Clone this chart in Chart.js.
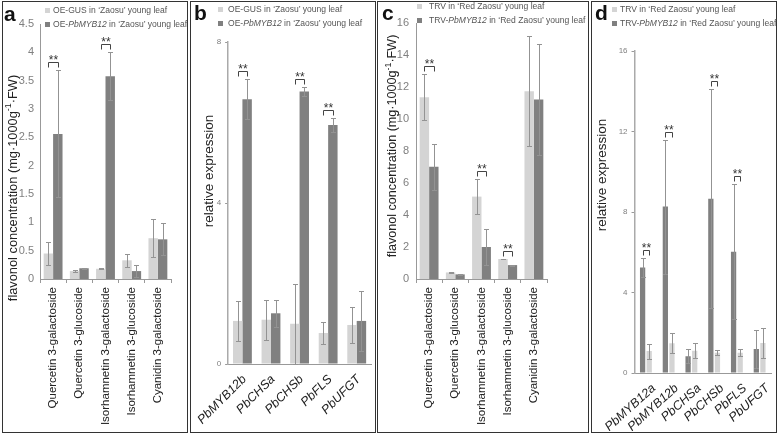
<!DOCTYPE html>
<html>
<head>
<meta charset="utf-8">
<script src="https://cdn.jsdelivr.net/npm/chart.js@4.4.1/dist/chart.umd.min.js"></script>
<style>
  body { margin: 0; background: #fff; width: 778px; height: 435px; position: relative; overflow: hidden;
         font-family: "Liberation Sans", Arial, sans-serif; }
  .box { position: absolute; border: 1px solid #333; box-sizing: border-box; }
  canvas { position: absolute; }
  .letter { position: absolute; font-weight: bold; font-size: 21px; line-height: 21px; color: #111; }
  .ytitle { position: absolute; white-space: nowrap; color: #222; transform: translate(-50%, -50%) rotate(-90deg); line-height: 1; }
  .ytitle sup { font-size: 0.7em; }
  .lg { position: absolute; font-size: 9px; line-height: 10px; color: #555; white-space: nowrap;
        transform: scaleX(0.95); transform-origin: 0 50%; }
  .mk { position: absolute; width: 5px; height: 5px; }
</style>
</head>
<body>

<div class="box" style="left:2px;top:1px;width:186px;height:432px"></div>
<div class="box" style="left:190px;top:1px;width:186px;height:432px"></div>
<div class="box" style="left:377px;top:1px;width:212px;height:432px"></div>
<div class="box" style="left:591px;top:1px;width:186px;height:432px"></div>

<canvas id="chartA" width="183" height="429" style="left:3px;top:2px"></canvas>
<canvas id="chartB" width="183" height="429" style="left:191px;top:2px"></canvas>
<canvas id="chartC" width="210" height="429" style="left:378px;top:2px"></canvas>
<canvas id="chartD" width="183" height="429" style="left:592px;top:2px"></canvas>

<div class="letter" style="left:4px;top:3px">a</div>
<div class="letter" style="left:194px;top:2px">b</div>
<div class="letter" style="left:382px;top:2px">c</div>
<div class="letter" style="left:595px;top:2px">d</div>

<div class="ytitle" style="left:12px;top:188px;font-size:12.8px">flavonol concentration (mg·1000g<sup>-1</sup>·FW)</div>
<div class="ytitle" style="left:209px;top:171px;font-size:13.5px">relative expression</div>
<div class="ytitle" style="left:391px;top:146px;font-size:12.6px">flavonol concentration (mg·1000g<sup>-1</sup>·FW)</div>
<div class="ytitle" style="left:602px;top:175px;font-size:13.5px">relative expression</div>

<div class="mk" style="left:45px;top:8px;background:#d4d4d4"></div>
<div class="lg" style="left:53px;top:5px">OE-GUS in ‘Zaosu’ young leaf</div>
<div class="mk" style="left:45px;top:22px;background:#808080"></div>
<div class="lg" style="left:53px;top:19px">OE-<i>PbMYB12</i> in ‘Zaosu’ young leaf</div>

<div class="mk" style="left:218px;top:7px;background:#d4d4d4"></div>
<div class="lg" style="left:228px;top:4px">OE-GUS in ‘Zaosu’ young leaf</div>
<div class="mk" style="left:218px;top:21px;background:#808080"></div>
<div class="lg" style="left:228px;top:18px">OE-<i>PbMYB12</i> in ‘Zaosu’ young leaf</div>

<div class="mk" style="left:417px;top:4px;background:#d4d4d4"></div>
<div class="lg" style="left:429px;top:1px">TRV in ‘Red Zaosu’ young leaf</div>
<div class="mk" style="left:417px;top:18px;background:#808080"></div>
<div class="lg" style="left:429px;top:15px">TRV-<i>PbMYB12</i> in ‘Red Zaosu’ young leaf</div>

<div class="mk" style="left:612px;top:7px;background:#d4d4d4"></div>
<div class="lg" style="left:620px;top:4px">TRV in ‘Red Zaosu’ young leaf</div>
<div class="mk" style="left:612px;top:21px;background:#808080"></div>
<div class="lg" style="left:620px;top:18px">TRV-<i>PbMYB12</i> in ‘Red Zaosu’ young leaf</div>

<script>
// categories
const flavonolLabels = ['Quercetin 3-galactoside', 'Quercetin 3-glucoside', 'Isorhamnetin 3-galactoside', 'Isorhamnetin 3-glucoside', 'Cyanidin 3-galactoside'];
const geneLabelsB = ['PbMYB12b', 'PbCHSa', 'PbCHSb', 'PbFLS', 'PbUFGT'];
const geneLabelsD = ['PbMYB12a', 'PbMYB12b', 'PbCHSa', 'PbCHSb', 'PbFLS', 'PbUFGT'];

// a: flavonols in 'Zaosu' (OE)
const aGus = [0.45, 0.14, 0.18, 0.33, 0.72];
const aGusErr = [0.21, 0.015, 0.01, 0.12, 0.34];
const aMyb = [2.56, 0.19, 3.58, 0.14, 0.70];
const aMybErr = [1.12, 0.01, 0.42, 0.11, 0.28];
const aSig = [0, 2];

// b: expression in 'Zaosu' (OE)
const bGus = [1.07, 1.10, 1.00, 0.77, 0.97];
const bGusErr = [0.50, 0.50, 1.00, 0.27, 0.45];
const bMyb = [6.58, 1.26, 6.77, 5.94, 1.07];
const bMybErr = [0.50, 0.34, 0.11, 0.17, 0.74];
const bSig = [0, 2, 3];

// c: flavonols in 'Red Zaosu' (TRV)
const cTrv = [11.36, 0.41, 5.15, 1.25, 11.74];
const cTrvErr = [1.44, 0.03, 1.10, 0.03, 3.43];
const cMyb = [7.02, 0.29, 2.00, 0.87, 11.22];
const cMybErr = [1.43, 0.02, 1.12, 0.03, 3.45];
const cSig = [0, 2, 3];

// d: expression in 'Red Zaosu' (TRV), silenced bar drawn first
const dMyb = [5.24, 8.27, 0.83, 8.66, 6.03, 1.19];
const dMybErr = [0.46, 3.33, 0.35, 5.44, 3.36, 0.95];
const dTrv = [1.09, 1.48, 1.11, 1.01, 1.01, 1.49];
const dTrvErr = [0.37, 0.49, 0.37, 0.12, 0.18, 0.75];
const dSig = [0, 1, 3, 4];

const LIGHT = '#d4d4d4';
const DARK = '#808080';

// error bars + ** brackets
const errorBars = {
    id: 'errorBars',
    afterDatasetsDraw(chart, args, opts) {
        const ctx = chart.ctx;
        const y = chart.scales.y;
        ctx.save();
        ctx.strokeStyle = '#939393';
        ctx.lineWidth = 1;
        chart.data.datasets.forEach((ds, di) => {
            chart.getDatasetMeta(di).data.forEach((bar, i) => {
                const v = ds.data[i], e = ds.err[i];
                const top = Math.round(y.getPixelForValue(v + e)) + 0.5;
                const bot = Math.round(y.getPixelForValue(Math.max(0, v - e))) + 0.5;
                const x = Math.round(bar.x) + 0.5;
                ctx.beginPath();
                ctx.moveTo(x, top); ctx.lineTo(x, bot);
                ctx.moveTo(x - 2.5, top); ctx.lineTo(x + 2.5, top);
                ctx.moveTo(x - 2.5, bot); ctx.lineTo(x + 2.5, bot);
                ctx.stroke();
            });
        });
        ctx.strokeStyle = '#444';
        ctx.fillStyle = '#333';
        ctx.font = '12px "Liberation Sans", Arial, sans-serif';
        ctx.textAlign = 'center';
        (opts.sig || []).forEach(i => {
            const b0 = chart.getDatasetMeta(0).data[i];
            const b1 = chart.getDatasetMeta(1).data[i];
            const tops = chart.data.datasets.map(ds => y.getPixelForValue(ds.data[i] + ds.err[i]));
            const yb = Math.round(Math.min(...tops) - 8) + 0.5;
            const x0 = Math.round(b0.x) + 0.5, x1 = Math.round(b1.x) + 0.5;
            ctx.beginPath();
            ctx.moveTo(x0, yb + 5); ctx.lineTo(x0, yb); ctx.lineTo(x1, yb); ctx.lineTo(x1, yb + 5);
            ctx.stroke();
            ctx.fillText('**', (x0 + x1) / 2, yb + 1);
        });
        ctx.restore();
    }
};

function makePanel(id, labels, sets, sig, o) {
    const ctx = document.getElementById(id).getContext('2d');
    return new Chart(ctx, {
        type: 'bar',
        data: {
            labels: labels,
            datasets: sets.map(s => ({
                data: s.data,
                err: s.err,
                backgroundColor: s.color,
                borderWidth: 0,
                categoryPercentage: o.catPct,
                barPercentage: o.barPct
            }))
        },
        options: {
            responsive: false,
            animation: false,
            events: [],
            layout: { padding: { top: o.top, right: o.right, left: 0, bottom: 0 } },
            plugins: {
                legend: { display: false },
                tooltip: { enabled: false },
                errorBars: { sig: sig }
            },
            scales: {
                x: {
                    afterFit: s => { s.height = o.xHeight; },
                    border: { display: true, color: '#999', width: 1 },
                    grid: { display: o.xTicks, drawOnChartArea: false, tickLength: 4, color: '#999' },
                    ticks: {
                        autoSkip: false,
                        minRotation: o.rot,
                        maxRotation: o.rot,
                        padding: o.xPad,
                        labelOffset: o.xShift,
                        color: '#222',
                        font: { size: o.xFont, style: o.xStyle, family: '"Liberation Sans", Arial, sans-serif' }
                    }
                },
                y: {
                    min: 0,
                    max: o.yMax,
                    afterFit: s => { s.width = o.yWidth; },
                    border: { display: true, color: o.axisColor, width: o.axisWidth },
                    grid: { display: o.yTicks, drawOnChartArea: false, drawTicks: o.yTicks, tickLength: 3, color: '#999' },
                    ticks: {
                        stepSize: o.yStep,
                        padding: o.yPad,
                        color: '#808080',
                        callback: value => String(value),
                        font: { size: o.yFont, family: '"Liberation Sans", Arial, sans-serif' }
                    }
                }
            }
        },
        plugins: [errorBars]
    });
}

makePanel('chartA', flavonolLabels,
    [{ data: aGus, err: aGusErr, color: LIGHT }, { data: aMyb, err: aMybErr, color: DARK }], aSig,
    { top: 22, right: 15, yWidth: 37, xHeight: 152, yMax: 4.5, yStep: 0.5, yFont: 11, yPad: 6, yTicks: false,
      axisColor: '#999', axisWidth: 1, xTicks: true, rot: 90, xPad: 4, xShift: 0, xFont: 11.5, xStyle: 'normal',
      catPct: 0.72, barPct: 1 });

makePanel('chartB', geneLabelsB,
    [{ data: bGus, err: bGusErr, color: LIGHT }, { data: bMyb, err: bMybErr, color: DARK }], bSig,
    { top: 40, right: 3, yWidth: 27, xHeight: 67, yMax: 8, yStep: 4, yFont: 8, yPad: 4, yTicks: true,
      axisColor: '#aaa', axisWidth: 1.5, xTicks: false, rot: 45, xPad: 4, xShift: 2, xFont: 12.5, xStyle: 'italic',
      catPct: 0.66, barPct: 1 });

makePanel('chartC', flavonolLabels,
    [{ data: cTrv, err: cTrvErr, color: LIGHT }, { data: cMyb, err: cMybErr, color: DARK }], cSig,
    { top: 21, right: 41, yWidth: 38, xHeight: 152, yMax: 16, yStep: 2, yFont: 11, yPad: 7, yTicks: false,
      axisColor: '#999', axisWidth: 1, xTicks: true, rot: 90, xPad: 4, xShift: 0, xFont: 11.5, xStyle: 'normal',
      catPct: 0.72, barPct: 1 });

makePanel('chartD', geneLabelsD,
    [{ data: dMyb, err: dMybErr, color: DARK }, { data: dTrv, err: dTrvErr, color: LIGHT }], dSig,
    { top: 49, right: 4, yWidth: 35, xHeight: 58, yMax: 16, yStep: 4, yFont: 8, yPad: 4, yTicks: true,
      axisColor: '#aaa', axisWidth: 1.5, xTicks: false, rot: 42, xPad: 4, xShift: 8, xFont: 12.5, xStyle: 'italic',
      catPct: 0.58, barPct: 0.8 });
</script>
</body>
</html>
